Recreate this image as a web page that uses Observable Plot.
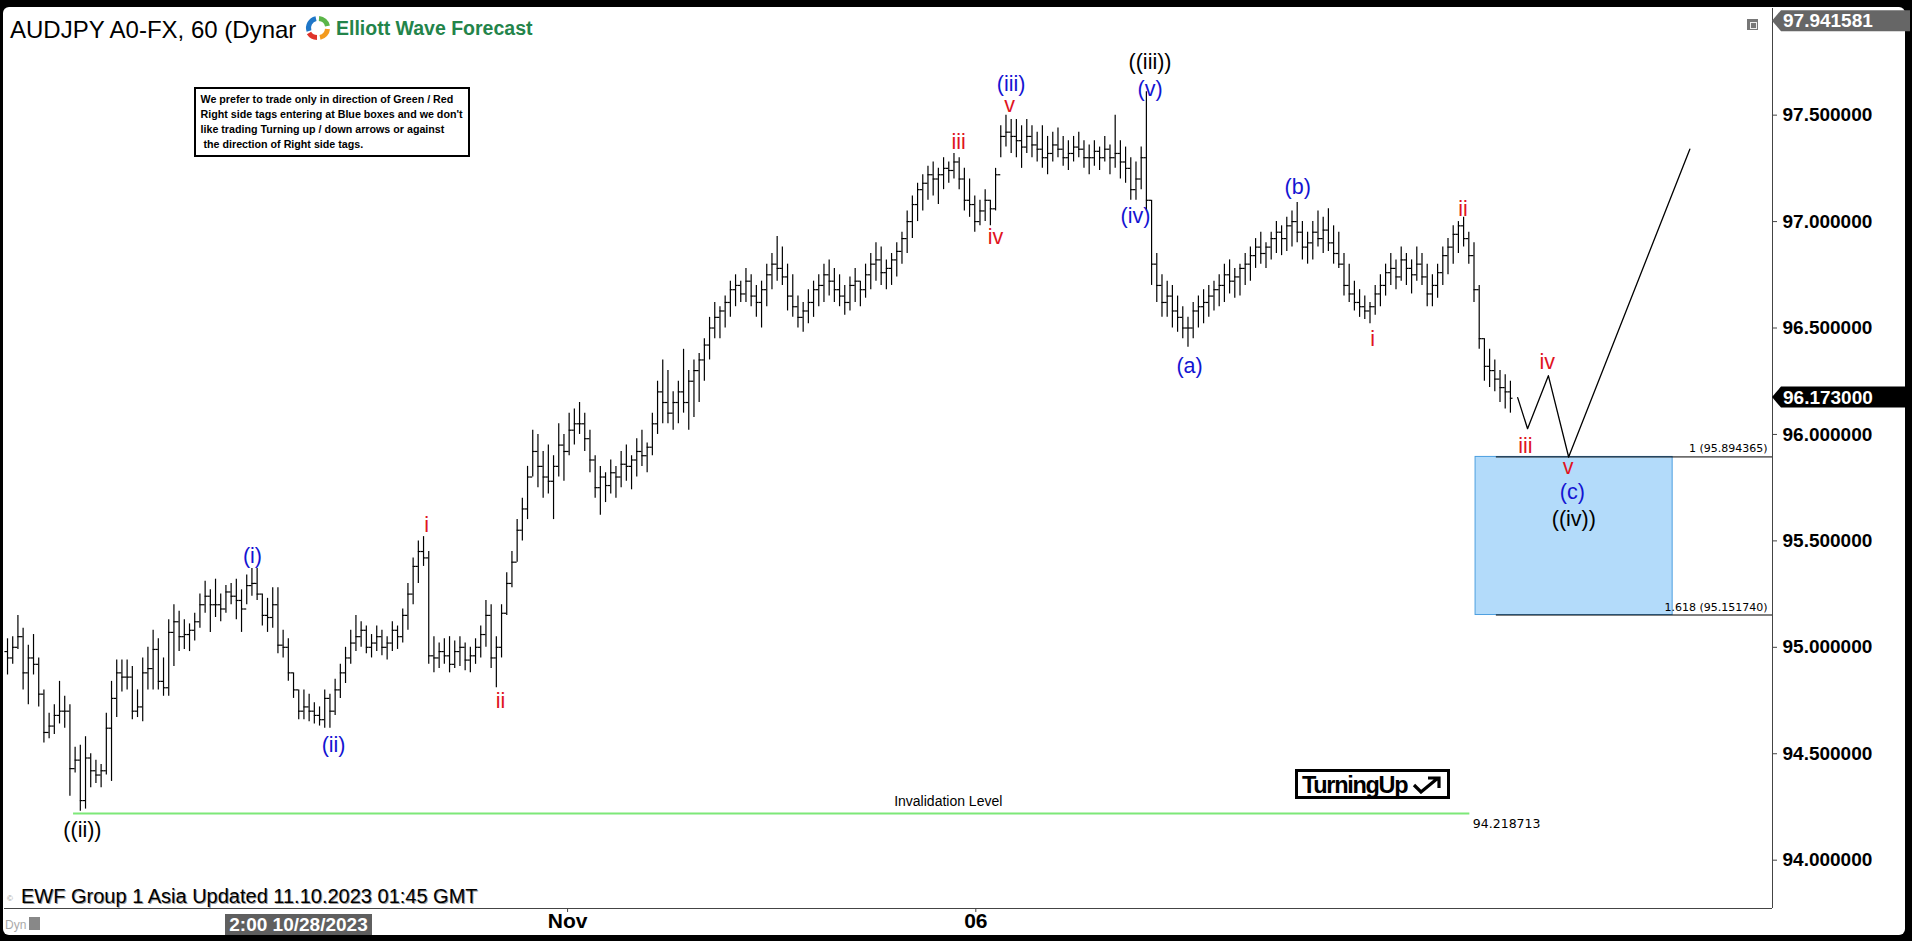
<!DOCTYPE html>
<html><head><meta charset="utf-8">
<script src="https://cdn.jsdelivr.net/npm/d3@7"></script>
<script src="https://cdn.jsdelivr.net/npm/@observablehq/plot@0.6"></script>
<style>
html,body{margin:0;padding:0;background:#000;}
#frame{position:relative;width:1912px;height:941px;background:#000;overflow:hidden;font-family:"Liberation Sans",Arial,sans-serif;}
#paper{position:absolute;left:3px;top:7px;width:1902px;height:928px;background:#fff;border-radius:6px;}
#chart{position:absolute;left:0;top:0;}
.abs{position:absolute;white-space:nowrap;line-height:1;}
</style></head><body>
<div id="frame">
  <div id="paper"></div>
  <div id="chart"></div>
  <div class="abs" style="left:10px;top:17.6px;font-size:24px;color:#000;">AUDJPY A0-FX, 60 (Dynar</div>
  <svg class="abs" style="left:304px;top:14px" width="28" height="28" viewBox="0 0 28 28">
    <path d="M5 17 A9.5 9.5 0 0 1 12 4.6" stroke="#1f77c8" stroke-width="5" fill="none"/>
    <path d="M15 4.5 A9.5 9.5 0 0 1 23.5 12" stroke="#5bb548" stroke-width="5" fill="none"/>
    <path d="M23.5 15 A9.5 9.5 0 0 1 16 23.4" stroke="#f39a1e" stroke-width="5" fill="none"/>
    <path d="M13 23.5 A9.5 9.5 0 0 1 5 19" stroke="#e0342a" stroke-width="5" fill="none"/>
  </svg>
  <div class="abs" style="left:336px;top:19px;font-size:19.5px;font-weight:bold;color:#23844a;">Elliott Wave Forecast</div>
  <div class="abs" style="left:194px;top:87px;height:66px;border:2px solid #000;background:#fff;font-size:10.7px;font-weight:bold;line-height:15px;padding:0 0 0 4.5px;box-sizing:content-box;width:267.5px;">
    <div style="margin-top:3px">We prefer to trade only in direction of Green / Red<br>Right side tags entering at Blue boxes and we don't<br>like trading Turning up / down arrows or against<br>&nbsp;the direction of Right side tags.</div>
  </div>
  <div class="abs" style="left:1747px;top:19px;width:11px;height:11px;background:#777;"><div style="position:absolute;left:3px;top:3px;width:5px;height:5px;border:1px solid #eee;"></div></div>
  <div class="abs" style="left:1295px;top:769px;width:149px;height:24px;border:3px solid #000;background:#fff;">
    <span style="position:absolute;left:4px;top:2px;font-size:23.5px;font-weight:bold;letter-spacing:-1.3px;">TurningUp</span>
    <svg style="position:absolute;left:114px;top:4px" width="32" height="18" viewBox="0 0 32 18"><path d="M2 9 L9 16 L26 2 M16 2 L27 2 L27 12" stroke="#000" stroke-width="3.2" fill="none"/></svg>
  </div>
  <div class="abs" style="left:21px;top:886px;font-size:20px;color:#000;text-shadow:1px 1px 0 #9a9a9a;">EWF Group 1 Asia Updated 11.10.2023 01:45 GMT</div>
  <div class="abs" style="left:7px;top:895px;font-size:8px;color:#999;">©</div>
  <div class="abs" style="left:5px;top:919px;font-size:12px;color:#aaa;">Dyn</div>
  <div class="abs" style="left:29px;top:917px;width:11px;height:13px;background:#888;"></div>
  <div class="abs" style="left:225px;top:914px;width:147px;height:21px;background:#5f5f5f;color:#fff;font-size:19px;font-weight:bold;text-align:center;line-height:21px;">2:00 10/28/2023</div>
</div>
<script>
const xDomain = [-0.58, 339.4];
const yDomain = [93.773, 98.001];
const yTicks = [94, 94.5, 95, 95.5, 96, 96.5, 97, 97.5];
const xTickPos = [107.7, 186.2];
const xTickText = ["Nov", "06"];

const highs = [
95.04,95.05,95.15,95.09,95.01,95.06,94.95,94.80,94.69,94.73,94.84,94.77,94.73,94.53,94.54,94.58,94.50,94.47,94.45,94.69,
94.84,94.94,94.94,94.94,94.91,94.80,94.95,95.00,95.08,95.04,94.95,95.13,95.20,95.17,95.13,95.11,95.16,95.25,95.31,95.27,
95.32,95.25,95.29,95.30,95.32,95.27,95.34,95.37,95.37,95.25,95.23,95.28,95.28,95.08,95.04,94.88,94.80,94.80,94.78,94.74,
94.72,94.80,94.78,94.85,94.92,95.00,95.08,95.15,95.12,95.10,95.06,95.10,95.08,95.05,95.12,95.10,95.18,95.30,95.42,95.50,
95.52,95.45,95.05,95.02,95.04,95.05,95.03,95.05,95.02,95.00,95.04,95.10,95.22,95.20,95.05,95.20,95.35,95.45,95.60,95.70,
95.85,96.02,96.00,95.92,95.95,95.90,96.05,96.00,96.10,96.12,96.15,96.10,96.02,95.90,95.85,95.82,95.88,95.85,95.92,95.95,
95.90,95.98,96.02,95.96,96.10,96.25,96.35,96.30,96.20,96.25,96.40,96.30,96.35,96.38,96.45,96.55,96.62,96.60,96.65,96.72,
96.75,96.72,96.78,96.75,96.70,96.72,96.80,96.85,96.93,96.88,96.80,96.75,96.65,96.62,96.68,96.72,96.75,96.80,96.82,96.78,
96.75,96.70,96.74,96.78,96.72,96.80,96.85,96.90,96.88,96.82,96.85,96.90,96.95,97.05,97.12,97.18,97.22,97.26,97.28,97.25,
97.30,97.28,97.32,97.30,97.25,97.20,97.12,97.10,97.15,97.10,97.25,97.45,97.50,97.48,97.48,97.45,97.48,97.45,97.42,97.45,
97.40,97.42,97.44,97.40,97.38,97.40,97.42,97.38,97.36,97.38,97.35,97.40,97.36,97.50,97.38,97.35,97.30,97.28,97.35,97.61,
97.10,96.85,96.75,96.72,96.70,96.65,96.60,96.55,96.62,96.65,96.68,96.70,96.72,96.75,96.80,96.82,96.78,96.80,96.85,96.88,
96.92,96.95,96.90,96.95,97.00,96.98,97.02,97.05,97.09,97.00,96.95,97.00,97.05,97.02,97.06,96.98,96.95,96.85,96.80,96.72,
96.68,96.65,96.62,96.70,96.75,96.80,96.85,96.82,96.88,96.85,96.82,96.88,96.85,96.80,96.75,96.80,96.88,96.92,96.98,97.00,
97.02,96.95,96.90,96.70,96.45,96.40,96.35,96.30,96.28,96.25];
const lows = [
94.87,94.92,94.99,94.80,94.73,94.87,94.72,94.55,94.57,94.59,94.64,94.62,94.30,94.41,94.23,94.24,94.34,94.36,94.34,94.40,
94.37,94.67,94.79,94.80,94.66,94.67,94.65,94.80,94.80,94.80,94.77,94.77,94.91,94.98,94.99,94.98,95.03,95.09,95.16,95.07,
95.14,95.12,95.16,95.20,95.13,95.07,95.20,95.24,95.22,95.10,95.07,95.09,94.97,94.95,94.84,94.76,94.66,94.66,94.65,94.64,
94.63,94.62,94.62,94.68,94.76,94.83,94.92,94.98,95.00,94.97,94.95,94.98,94.96,94.94,94.98,94.99,95.02,95.08,95.20,95.30,
95.38,94.92,94.88,94.90,94.92,94.88,94.90,94.91,94.89,94.88,94.92,94.95,95.00,94.90,94.81,94.95,95.15,95.28,95.40,95.50,
95.60,95.80,95.75,95.70,95.72,95.60,95.80,95.78,95.90,95.95,96.00,95.92,95.82,95.70,95.62,95.68,95.72,95.70,95.75,95.78,
95.74,95.80,95.85,95.82,95.90,96.00,96.05,96.05,96.02,96.05,96.10,96.02,96.08,96.15,96.25,96.35,96.45,96.45,96.50,96.55,
96.60,96.62,96.62,96.60,96.55,96.50,96.60,96.68,96.72,96.70,96.58,96.55,96.50,96.48,96.52,96.55,96.60,96.62,96.65,96.62,
96.60,96.56,96.58,96.62,96.60,96.64,96.68,96.72,96.70,96.68,96.70,96.74,96.80,96.85,96.92,97.00,97.05,97.10,97.12,97.08,
97.15,97.18,97.20,97.15,97.05,97.02,96.95,96.98,97.00,96.98,97.05,97.30,97.35,97.32,97.30,97.25,97.32,97.30,97.28,97.25,
97.22,97.28,97.30,97.26,97.24,97.28,97.30,97.25,97.22,97.26,97.24,97.28,97.22,97.25,97.20,97.18,97.10,97.10,97.15,97.05,
96.70,96.62,96.55,96.55,96.50,96.48,96.45,96.41,96.45,96.50,96.52,96.55,96.58,96.60,96.62,96.66,96.64,96.65,96.70,96.72,
96.78,96.80,96.78,96.82,96.85,96.84,96.86,96.88,96.90,96.82,96.80,96.82,96.88,96.85,96.86,96.80,96.78,96.65,96.62,96.58,
96.55,96.54,96.52,96.56,96.60,96.65,96.70,96.68,96.72,96.70,96.66,96.72,96.70,96.60,96.60,96.64,96.70,96.75,96.80,96.85,
96.88,96.80,96.62,96.40,96.25,96.22,96.20,96.15,96.12,96.10];
const closes = [
94.95,95.00,95.05,94.88,94.95,94.92,94.78,94.60,94.63,94.68,94.70,94.70,94.43,94.47,94.28,94.48,94.42,94.40,94.42,94.62,
94.76,94.88,94.86,94.86,94.70,94.72,94.88,94.90,94.99,94.84,94.81,95.07,95.12,95.05,95.06,95.08,95.12,95.20,95.24,95.20,
95.20,95.18,95.26,95.24,95.22,95.18,95.29,95.30,95.25,95.15,95.14,95.20,95.01,95.00,94.88,94.80,94.70,94.72,94.70,94.68,
94.66,94.76,94.70,94.80,94.88,94.95,95.02,95.05,95.08,95.00,95.02,95.05,95.00,95.02,95.08,95.05,95.15,95.25,95.38,95.45,
95.42,94.96,94.95,94.98,94.96,94.92,94.98,95.00,94.94,94.96,95.00,95.06,95.15,94.95,95.00,95.16,95.30,95.40,95.55,95.65,
95.80,95.92,95.85,95.80,95.78,95.85,95.95,95.92,96.02,96.05,96.05,95.98,95.88,95.75,95.80,95.76,95.82,95.80,95.86,95.85,
95.88,95.92,95.90,95.94,96.05,96.20,96.15,96.10,96.15,96.20,96.15,96.25,96.30,96.35,96.42,96.50,96.55,96.58,96.62,96.68,
96.70,96.66,96.72,96.65,96.62,96.68,96.75,96.80,96.78,96.74,96.65,96.60,96.55,96.58,96.62,96.68,96.70,96.75,96.72,96.68,
96.65,96.62,96.70,96.72,96.68,96.75,96.80,96.82,96.76,96.78,96.82,96.86,96.92,97.00,97.08,97.15,97.18,97.22,97.20,97.22,
97.25,97.24,97.28,97.20,97.10,97.08,97.00,97.05,97.10,97.06,97.22,97.40,97.42,97.40,97.38,97.35,97.40,97.36,97.34,97.30,
97.32,97.36,97.34,97.30,97.32,97.35,97.34,97.30,97.30,97.33,97.30,97.34,97.30,97.32,97.28,97.25,97.15,97.20,97.30,97.10,
96.80,96.70,96.62,96.65,96.58,96.55,96.50,96.50,96.58,96.60,96.62,96.65,96.68,96.70,96.75,96.72,96.74,96.78,96.80,96.84,
96.88,96.85,96.88,96.92,96.95,96.92,96.98,97.00,96.95,96.88,96.90,96.95,96.92,96.96,96.90,96.85,96.80,96.70,96.66,96.62,
96.60,96.58,96.60,96.66,96.70,96.76,96.78,96.74,96.82,96.78,96.75,96.80,96.74,96.66,96.70,96.76,96.84,96.88,96.94,96.98,
96.92,96.84,96.68,96.45,96.32,96.30,96.26,96.22,96.20,96.17];
const opens = [
94.98,94.95,95.00,95.05,94.88,94.95,94.92,94.78,94.60,94.63,94.68,94.70,94.70,94.43,94.47,94.28,94.48,94.42,94.40,94.42,
94.62,94.76,94.88,94.86,94.86,94.70,94.72,94.88,94.90,94.99,94.84,94.81,95.07,95.12,95.05,95.06,95.08,95.12,95.20,95.24,
95.20,95.20,95.18,95.26,95.24,95.22,95.18,95.29,95.30,95.25,95.15,95.14,95.20,95.01,95.00,94.88,94.80,94.70,94.72,94.70,
94.68,94.66,94.76,94.70,94.80,94.88,94.95,95.02,95.05,95.08,95.00,95.02,95.05,95.00,95.02,95.08,95.05,95.15,95.25,95.38,
95.45,95.42,94.96,94.95,94.98,94.96,94.92,94.98,95.00,94.94,94.96,95.00,95.06,95.15,94.95,95.00,95.16,95.30,95.40,95.55,
95.65,95.80,95.92,95.85,95.80,95.78,95.85,95.95,95.92,96.02,96.05,96.05,95.98,95.88,95.75,95.80,95.76,95.82,95.80,95.86,
95.85,95.88,95.92,95.90,95.94,96.05,96.20,96.15,96.10,96.15,96.20,96.15,96.25,96.30,96.35,96.42,96.50,96.55,96.58,96.62,
96.68,96.70,96.66,96.72,96.65,96.62,96.68,96.75,96.80,96.78,96.74,96.65,96.60,96.55,96.58,96.62,96.68,96.70,96.75,96.72,
96.68,96.65,96.62,96.70,96.72,96.68,96.75,96.80,96.82,96.76,96.78,96.82,96.86,96.92,97.00,97.08,97.15,97.18,97.22,97.20,
97.22,97.25,97.24,97.28,97.20,97.10,97.08,97.00,97.05,97.10,97.06,97.22,97.40,97.42,97.40,97.38,97.35,97.40,97.36,97.34,
97.30,97.32,97.36,97.34,97.30,97.32,97.35,97.34,97.30,97.30,97.33,97.30,97.34,97.30,97.32,97.28,97.25,97.15,97.20,97.30,
97.10,96.80,96.70,96.62,96.65,96.58,96.55,96.50,96.50,96.58,96.60,96.62,96.65,96.68,96.70,96.75,96.72,96.74,96.78,96.80,
96.84,96.88,96.85,96.88,96.92,96.95,96.92,96.98,97.00,96.95,96.88,96.90,96.95,96.92,96.96,96.90,96.85,96.80,96.70,96.66,
96.62,96.60,96.58,96.60,96.66,96.70,96.76,96.78,96.74,96.82,96.78,96.75,96.80,96.74,96.66,96.70,96.76,96.84,96.88,96.94,
96.98,96.92,96.84,96.68,96.45,96.32,96.30,96.26,96.22,96.20];

const projX = [290.4, 292.3, 296.3, 300.2, 323.5];
const projY = [96.173, 96.027, 96.276, 95.894, 97.34];

const waveText  = ["((ii))","(i)","(ii)","i","ii","iii","iv","v","(iii)","((iii))","(v)","(iv)","(a)","(b)","i","ii","iii","iv","v","(c)","((iv))"];
const waveX     = [14.4, 47.1, 62.7, 80.6, 94.8, 182.9, 190.0, 192.7, 193.0, 219.7, 219.7, 216.9, 227.3, 248.1, 262.5, 279.9, 291.9, 296.1, 300.1, 300.9, 301.2];
const wavePrice = [94.143, 95.43, 94.54, 95.576, 94.749, 97.373, 96.926, 97.545, 97.647, 97.749, 97.624, 97.028, 96.323, 97.16, 96.45, 97.06, 95.947, 96.339, 95.845, 95.728, 95.603];
const waveColor = ["#000","#1414d2","#1414d2","#e0141e","#e0141e","#e0141e","#e0141e","#e0141e","#1414d2","#000","#1414d2","#1414d2","#1414d2","#1414d2","#e0141e","#e0141e","#e0141e","#e0141e","#e0141e","#1414d2","#000"];

const boxX = [282.3, 320.2];
const fibLevels = [95.894365, 95.151740];
const fibNames = ["1", "1.618"];
const fibStartX = 286.3;
const invalidation = 94.218713;
const invalidationX = [12.7, 281.2];
const invalidationLabelX = 180.9;
const lastPrice = 96.173;
const highPrice = 97.941581;

const bars = highs.map((h, i) => ({i, h, l: lows[i], o: opens[i], c: closes[i]}));
const waves = waveText.map((t, k) => ({t, x: waveX[k], y: wavePrice[k], c: waveColor[k]}));
const proj = projX.map((x, k) => ({x, y: projY[k]}));
const fibs = fibLevels.map((v, k) => ({v, label: `${fibNames[k]} (${v.toFixed(6)})`}));

function priceTag(value, fill) {
  return (index, scales, values, dims) => {
    const y = scales.y(value);
    const x0 = dims.width - dims.marginRight;
    const g = d3.create("svg:g");
    g.append("path")
      .attr("d", `M${x0},${y} L${x0+9},${y-10.5} L${x0+138},${y-10.5} L${x0+138},${y+10.5} L${x0+9},${y+10.5} Z`)
      .attr("fill", fill);
    g.append("text").attr("x", x0 + 11).attr("y", y).attr("dy", "0.36em")
      .attr("text-anchor", "start")
      .attr("fill", "#fff").attr("font-weight", "bold").attr("font-size", 19)
      .attr("font-family", "Liberation Sans, Arial, sans-serif")
      .text(value.toFixed(6));
    return g.node();
  };
}

const chart = Plot.plot({
  width: 1912, height: 941,
  marginTop: 8, marginBottom: 33, marginLeft: 4, marginRight: 140,
  style: {background: "transparent", fontFamily: "Liberation Sans, Arial, sans-serif", overflow: "visible"},
  x: {type: "linear", domain: xDomain},
  y: {domain: yDomain},
  marks: [
    Plot.rect([0], {x1: boxX[0], x2: boxX[1], y1: fibLevels[1], y2: fibLevels[0], fill: "#b3dbfa", stroke: "#4d9fe0", strokeWidth: 1}),
    Plot.ruleY(fibs, {y: "v", x1: fibStartX, x2: xDomain[1], stroke: "#000", strokeWidth: 1}),
    Plot.text(fibs, {y: "v", text: "label", frameAnchor: "right", textAnchor: "end", dx: -5, dy: -8, fontSize: 11, fontFamily: "DejaVu Sans", fill: "#000"}),
    Plot.ruleY([invalidation], {x1: invalidationX[0], x2: invalidationX[1], stroke: "#7de878", strokeWidth: 2}),
    Plot.text([invalidation], {x: invalidationLabelX, y: d => d, text: () => "Invalidation Level", dy: -12, fontSize: 14, fill: "#000"}),
    Plot.text([invalidation], {x: invalidationX[1], y: d => d, text: d => d.toFixed(6), textAnchor: "start", dx: 3, dy: 10, fontSize: 12.5, fontFamily: "DejaVu Sans", fill: "#000"}),
    Plot.ruleX(bars, {x: "i", y1: "l", y2: "h", stroke: "#000", strokeWidth: 1.2}),
    Plot.ruleY(bars, {y: "o", x1: d => d.i - 0.5, x2: "i", stroke: "#000", strokeWidth: 1.2}),
    Plot.ruleY(bars, {y: "c", x1: "i", x2: d => d.i + 0.5, stroke: "#000", strokeWidth: 1.2}),
    Plot.line(proj, {x: "x", y: "y", stroke: "#000", strokeWidth: 1.3}),
    Plot.text(waves, {x: "x", y: "y", text: "t", fill: "c", fontSize: 21.5}),
    Plot.ruleX([xDomain[1]], {stroke: "#444", strokeWidth: 1}),
    Plot.ruleY([yDomain[0]], {stroke: "#444", strokeWidth: 1}),
    Plot.axisY({anchor: "right", ticks: yTicks, tickFormat: d => d.toFixed(6), tickSize: 4, tickPadding: 6, fontSize: 19, fontWeight: "bold", stroke: "#444", fill: "#000", label: null}),
    Plot.axisX({anchor: "bottom", ticks: xTickPos, tickFormat: d => xTickText[xTickPos.indexOf(d)], tickSize: 4, tickPadding: 1, fontSize: 21, fontWeight: "bold", fontFamily: "Liberation Sans Narrow, Arial Narrow, sans-serif", stroke: "#444", fill: "#000", label: null}),
    priceTag(highPrice, "#666"),
    priceTag(lastPrice, "#000")
  ]
});
document.getElementById("chart").appendChild(chart);
</script>
</body></html>
